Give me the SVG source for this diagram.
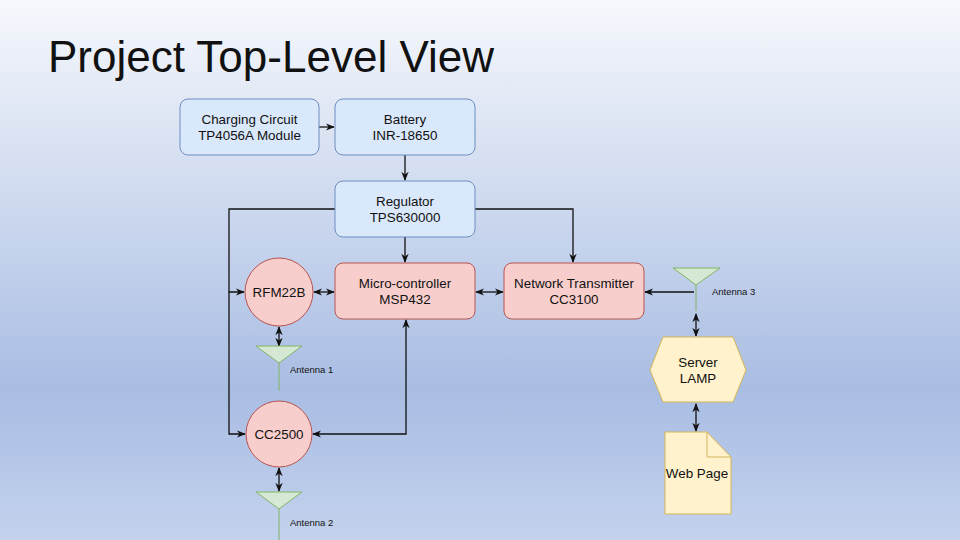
<svg xmlns="http://www.w3.org/2000/svg" width="960" height="540" viewBox="0 0 960 540">
<defs>
<linearGradient id="bg" x1="0" y1="0" x2="0" y2="1">
<stop offset="0" stop-color="#f6f8fc"/>
<stop offset="0.72" stop-color="#a9bde3"/>
<stop offset="1" stop-color="#c3d2ed"/>
</linearGradient>
<marker id="a" viewBox="0 0 10 10" refX="9" refY="5" markerWidth="7" markerHeight="7" orient="auto-start-reverse">
<path d="M0,1 L10,5 L0,9 L3,5 Z" fill="#111"/>
</marker>
</defs>
<style>
.blue{fill:#dae8fc;stroke:#6c8ebf;stroke-width:1}
.red{fill:#f8cecc;stroke:#b85450;stroke-width:1}
.yel{fill:#fff2cc;stroke:#d6b656;stroke-width:1}
.ant{fill:#d5e8d4;stroke:#82b366;stroke-width:1}
.antl{stroke:#82b366;stroke-width:1}
text{font-family:"Liberation Sans",Arial,sans-serif;font-size:13.4px;fill:#111;text-anchor:middle}
.small{font-size:9.5px;text-anchor:start}
.c{fill:none;stroke:#111;stroke-width:1.3}
</style>
<rect width="960" height="540" fill="url(#bg)"/>
<text x="48" y="72" style="font-size:44px;text-anchor:start">Project Top-Level View</text>
<g id="connectors">
<path class="c" d="M319,127 H334" marker-end="url(#a)"/>
<path class="c" d="M405,155 V180" marker-end="url(#a)"/>
<path class="c" d="M405,237 V262" marker-end="url(#a)"/>
<path class="c" d="M475,209 H573 V262" marker-end="url(#a)"/>
<path class="c" d="M335,209 H229 V292 H244" marker-end="url(#a)"/>
<path class="c" d="M229,292 V434 H245" marker-end="url(#a)"/>
<path class="c" d="M314,292 H334" marker-start="url(#a)" marker-end="url(#a)"/>
<path class="c" d="M476,292 H503" marker-start="url(#a)" marker-end="url(#a)"/>
<path class="c" d="M645,292 H694" marker-start="url(#a)"/>
<path class="c" d="M279,327 V346" marker-start="url(#a)" marker-end="url(#a)"/>
<path class="c" d="M313,434 H406 V320" marker-start="url(#a)" marker-end="url(#a)"/>
<path class="c" d="M279,468 V491" marker-start="url(#a)" marker-end="url(#a)"/>
<path class="c" d="M696,314 V336" marker-start="url(#a)" marker-end="url(#a)"/>
<path class="c" d="M696,404 V431" marker-start="url(#a)" marker-end="url(#a)"/>
</g>
<g id="charging"><rect class="blue" x="180" y="99" width="139" height="56" rx="8"/><text x="249.5" y="124">Charging Circuit</text><text x="249.5" y="140">TP4056A Module</text></g>
<g id="battery"><rect class="blue" x="335" y="99" width="140" height="56" rx="8"/><text x="405" y="124">Battery</text><text x="405" y="140">INR-18650</text></g>
<g id="regulator"><rect class="blue" x="335" y="181" width="140" height="56" rx="8"/><text x="405" y="206">Regulator</text><text x="405" y="222">TPS630000</text></g>
<g id="micro"><rect class="red" x="335" y="263" width="140" height="56" rx="8"/><text x="405" y="288">Micro-controller</text><text x="405" y="304">MSP432</text></g>
<g id="network"><rect class="red" x="504" y="263" width="140" height="56" rx="8"/><text x="574" y="288">Network Transmitter</text><text x="574" y="304">CC3100</text></g>
<g id="rfm22b"><circle class="red" cx="279" cy="292" r="34"/><text x="279" y="297">RFM22B</text></g>
<g id="cc2500"><circle class="red" cx="279" cy="434" r="33"/><text x="279" y="439">CC2500</text></g>
<g id="antenna1"><line class="antl" x1="279" y1="363" x2="279" y2="391"/><polygon class="ant" points="256,346 302,346 279,363"/><text class="small" x="290" y="373">Antenna 1</text></g>
<g id="antenna2"><line class="antl" x1="279" y1="509" x2="279" y2="540"/><polygon class="ant" points="256,492 302,492 279,509"/><text class="small" x="290" y="526">Antenna 2</text></g>
<g id="antenna3"><line class="antl" x1="696" y1="285" x2="696" y2="311"/><polygon class="ant" points="673,268 720,268 696,285"/><text class="small" x="712" y="295">Antenna 3</text></g>
<g id="server"><polygon class="yel" points="663,337 733,337 746,370 733,402 663,402 650,370"/><text x="698" y="367">Server</text><text x="698" y="383">LAMP</text></g>
<g id="webpage"><path class="yel" d="M665,432 H707 L731,457 V514 H665 Z"/><path d="M707,432 V457 H731" fill="none" stroke="#d6b656"/><text x="697" y="478">Web Page</text></g>
</svg>
